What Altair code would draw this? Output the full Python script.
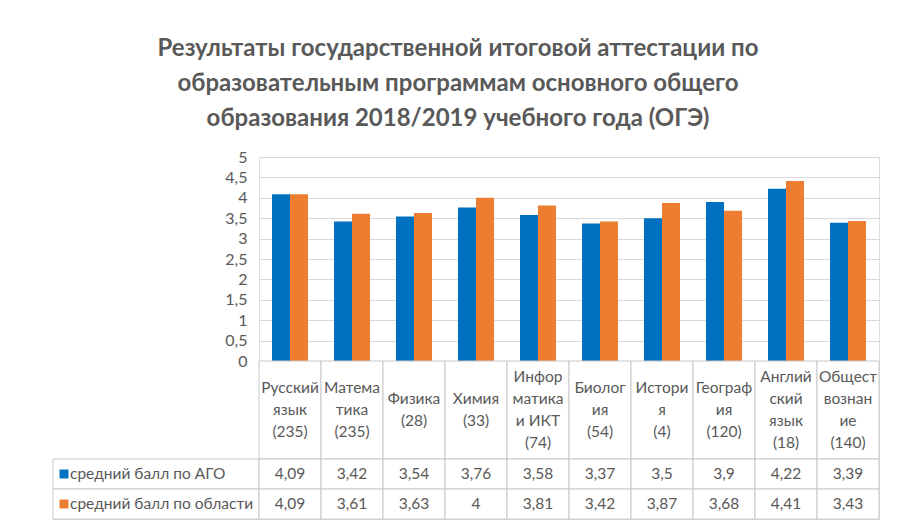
import altair as alt
import pandas as pd

categories = ["Русский язык (235)", "Математика (235)", "Физика (28)", "Химия (33)",
              "Информатика и ИКТ (74)", "Биология (54)", "История (4)",
              "География (120)", "Английский язык (18)", "Обществознание (140)"]
cat_labels = ["Русский\nязык\n(235)", "Матема\nтика\n(235)", "Физика\n(28)", "Химия\n(33)",
              "Инфор\nматика\nи ИКТ\n(74)", "Биолог\nия\n(54)", "Истори\nя\n(4)",
              "Географ\nия\n(120)", "Англий\nский\nязык\n(18)", "Общест\nвознан\nие\n(140)"]
series = ["средний балл по АГО", "средний балл по области"]
ago = [4.09, 3.42, 3.54, 3.76, 3.58, 3.37, 3.5, 3.9, 4.22, 3.39]
oblast = [4.09, 3.61, 3.63, 4, 3.81, 3.42, 3.87, 3.68, 4.41, 3.43]
colors = ["#0070C0", "#ED7D31"]
y_ticks = [0, 0.5, 1, 1.5, 2, 2.5, 3, 3.5, 4, 4.5, 5]

TEXT = "#595959"
LINE = "#C8C8C8"
FONT = "Lato"
LH = 22

rows = []
for s, vals in zip(series, [ago, oblast]):
    for c, v in zip(categories, vals):
        rows.append({"cat": c, "series": s, "value": v,
                     "txt": (f"{v:g}").replace(".", ",")})
df = pd.DataFrame(rows)
hdr = pd.DataFrame({"cat": categories, "label": cat_labels,
                    "nlines": [l.count("\n") + 1 for l in cat_labels]})
leg = pd.DataFrame({"series": series})

W_LEFT, W_PLOT, H_PLOT, H_HDR, H_ROWS = 206, 620, 204, 98, 60

xs = alt.X("cat:N", sort=categories, axis=None,
           scale=alt.Scale(paddingInner=0.42, paddingOuter=0.21))
xs_tab = alt.X("cat:N", sort=categories, axis=None,
               scale=alt.Scale(paddingInner=0, paddingOuter=0))

bars = alt.Chart(df).mark_bar().encode(
    x=xs,
    xOffset=alt.XOffset("series:N", sort=series, scale=alt.Scale(paddingInner=0)),
    y=alt.Y("value:Q", scale=alt.Scale(domain=[0, 5], nice=False),
            axis=alt.Axis(values=y_ticks, title=None, domain=False, ticks=False,
                          grid=True, gridColor="#D9D9D9", labelFontSize=16,
                          labelColor=TEXT, labelFont=FONT, labelPadding=12,
                          labelExpr="replace(toString(datum.value), '.', ',')")),
    color=alt.Color("series:N", scale=alt.Scale(domain=series, range=colors), legend=None),
).properties(width=W_PLOT, height=H_PLOT)

def empty(h):
    return alt.Chart(leg).mark_point(opacity=0).properties(width=W_LEFT, height=h)

hdr_cells = alt.Chart(hdr).mark_rect(fill="white", stroke=LINE, strokeWidth=1).encode(x=xs_tab)
hdr_layers = [hdr_cells]
for n in sorted(set(hdr["nlines"])):
    hdr_layers.append(
        alt.Chart(hdr).transform_filter(f"datum.nlines == {n}").mark_text(
            font=FONT, fontSize=15.5, color=TEXT, lineBreak="\n", lineHeight=LH,
            baseline="middle", dy=-(n - 1) * LH / 2).encode(x=xs_tab, text="label:N"))
header = alt.layer(*hdr_layers).properties(width=W_PLOT, height=H_HDR)

ys = alt.Y("series:N", sort=series, axis=None, scale=alt.Scale(paddingInner=0, paddingOuter=0))
val_cells = alt.Chart(df).mark_rect(fill="white", stroke=LINE, strokeWidth=1).encode(x=xs_tab, y=ys)
val_text = alt.Chart(df).mark_text(font=FONT, fontSize=15.5, color=TEXT).encode(
    x=xs_tab, y=ys, text="txt:N")
values = (val_cells + val_text).properties(width=W_PLOT, height=H_ROWS)

leg_cells = alt.Chart(leg).mark_rect(fill="white", stroke=LINE, strokeWidth=1).encode(y=ys)
leg_sq = alt.Chart(leg).mark_square(size=80, opacity=1).encode(
    x=alt.value(11), y=ys,
    color=alt.Color("series:N", scale=alt.Scale(domain=series, range=colors), legend=None))
leg_text = alt.Chart(leg).mark_text(font=FONT, fontSize=15.5, color=TEXT, align="left").encode(
    x=alt.value(17), y=ys, text="series:N")
legend = (leg_cells + leg_sq + leg_text).properties(width=W_LEFT, height=H_ROWS)

chart = alt.concat(
    empty(H_PLOT), bars, empty(H_HDR), header, legend, values,
    columns=2, spacing=0, bounds="flush",
).properties(
    title=alt.TitleParams(
        text=["Результаты государственной итоговой аттестации по",
              "образовательным программам основного общего",
              "образования 2018/2019 учебного года (ОГЭ)"],
        font=FONT, fontSize=24, fontWeight="bold", color=TEXT,
        lineHeight=35, anchor="middle", dx=-8, offset=18),
    padding={"left": 44, "top": 28, "right": 5, "bottom": 0},
).configure_view(stroke=None).configure(background="white")

chart.save("out.html", embed_options={"renderer": "svg", "actions": False})
